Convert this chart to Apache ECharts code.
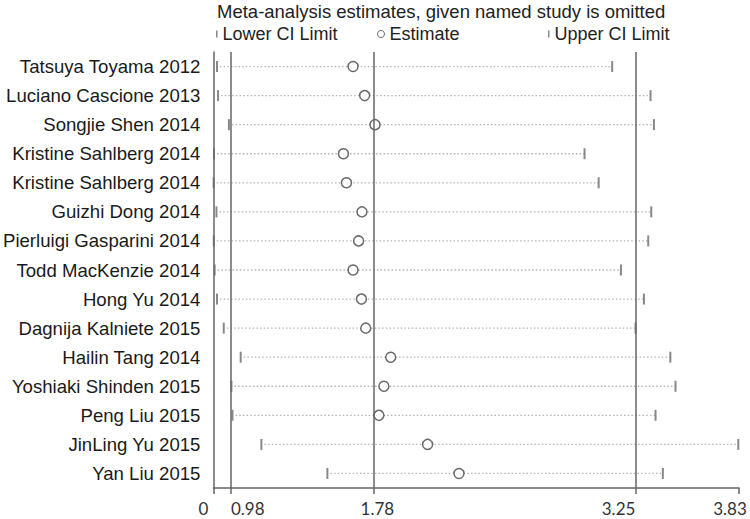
<!DOCTYPE html>
<html>
<head>
<meta charset="utf-8">
<script src="https://cdn.jsdelivr.net/npm/echarts@6/dist/echarts.min.js"></script>
<style>html,body{margin:0;padding:0;background:#fff;}#chart{width:750px;height:519px;}</style>
</head>
<body>
<div id="chart"></div>
<script>
const studies = [
  'Tatsuya Toyama 2012', 'Luciano Cascione 2013', 'Songjie Shen 2014',
  'Kristine Sahlberg 2014', 'Kristine Sahlberg 2014', 'Guizhi Dong 2014',
  'Pierluigi Gasparini 2014', 'Todd MacKenzie 2014', 'Hong Yu 2014',
  'Dagnija Kalniete 2015', 'Hailin Tang 2014', 'Yoshiaki Shinden 2015',
  'Peng Liu 2015', 'JinLing Yu 2015', 'Yan Liu 2015'
];
const lowerCI = [0.903, 0.909, 0.970, 0.886, 0.884, 0.900, 0.885, 0.890, 0.903, 0.941, 1.036, 0.984, 0.990, 1.152, 1.522];
const estimate = [1.666, 1.731, 1.789, 1.612, 1.629, 1.716, 1.697, 1.666, 1.713, 1.737, 1.877, 1.839, 1.811, 2.084, 2.260];
const upperCI = [3.119, 3.334, 3.353, 2.964, 3.043, 3.338, 3.321, 3.168, 3.297, 3.250, 3.445, 3.474, 3.362, 3.826, 3.403];
const refLines = [0.98, 1.78, 3.25];
const tickValues = [0.883, 0.98, 1.78, 3.25, 3.83];
const tickLabels = ['0', '0.98', '1.78', '3.25', '3.83'];
const tickStyleKeys = ['t0', 't1', 't2', 't3', 't4'];

const labelFont = 'Liberation Sans';
const tickFont = 'Lato';
function tickStyle(pad) {
  return { fontFamily: tickFont, fontSize: 17, color: '#333', padding: pad };
}
const tickRich = {
  t0: tickStyle([0, 20, 0, 0]),
  t1: tickStyle([0, 0, 0, 34]),
  t2: tickStyle([0, 0, 0, 8]),
  t3: tickStyle([0, 34, 0, 0]),
  t4: tickStyle([0, 18, 0, 0])
};

const chart = echarts.init(document.getElementById('chart'), null, { renderer: 'svg' });
const legendText = { fontFamily: labelFont, fontSize: 18, color: '#222' };
const rows = studies.map(function (s, i) { return i; });

chart.setOption({
  animation: false,
  backgroundColor: '#fff',
  title: {
    text: 'Meta-analysis estimates, given named study is omitted',
    left: 217, top: 2, padding: 0,
    textStyle: { fontFamily: labelFont, fontSize: 18.5, fontWeight: 'normal', color: '#222' }
  },
  legend: [
    { data: [{ name: 'Lower CI Limit', icon: 'rect' }], left: 216, top: 25, padding: 0,
      itemWidth: 1.5, itemHeight: 7, selectedMode: false, textStyle: legendText },
    { data: [{ name: 'Estimate', icon: 'circle' }], left: 377, top: 25, padding: 0,
      itemWidth: 7, itemHeight: 7, selectedMode: false, textStyle: legendText,
      itemStyle: { color: '#fff', borderColor: '#444', borderWidth: 1 } },
    { data: [{ name: 'Upper CI Limit', icon: 'rect' }], left: 548, top: 25, padding: 0,
      itemWidth: 1.5, itemHeight: 7, selectedMode: false, textStyle: legendText }
  ],
  grid: { left: 213, right: 11, top: 52, bottom: 31, containLabel: false },
  xAxis: {
    type: 'value',
    min: tickValues[0], max: tickValues[tickValues.length - 1],
    axisLine: { show: true, lineStyle: { color: '#666', width: 1.5 } },
    axisTick: { show: true, customValues: tickValues, length: 6, lineStyle: { color: '#666', width: 1.5 } },
    axisLabel: {
      customValues: tickValues, margin: 12, showMinLabel: true, showMaxLabel: true,
      fontFamily: tickFont, fontSize: 17, color: '#333',
      formatter: function (v) {
        let idx = 0, best = Infinity;
        tickValues.forEach(function (t, i) { const d = Math.abs(t - v); if (d < best) { best = d; idx = i; } });
        return '{' + tickStyleKeys[idx] + '|' + tickLabels[idx] + '}';
      },
      rich: tickRich
    },
    splitLine: { show: false }
  },
  yAxis: {
    type: 'category', data: studies, inverse: true,
    axisLine: { show: true, lineStyle: { color: '#666', width: 1.5 } },
    axisTick: { show: false },
    axisLabel: { fontFamily: labelFont, fontSize: 18.6, color: '#1a1a1a', margin: 13 },
    splitLine: { show: false }
  },
  series: [
    {
      type: 'custom', name: 'range', silent: true,
      encode: { x: 0, y: 1 },
      data: rows.map(function (i) { return [lowerCI[i], i, upperCI[i]]; }),
      renderItem: function (params, api) {
        const a = api.coord([api.value(0), api.value(1)]);
        const b = api.coord([api.value(2), api.value(1)]);
        return { type: 'line', shape: { x1: a[0] + 3, y1: a[1], x2: b[0], y2: b[1] },
          style: { stroke: '#b4b4b4', lineWidth: 1.3, lineDash: [1.5, 2.2] } };
      },
      z: 1
    },
    {
      type: 'scatter', name: 'Lower CI Limit', symbol: 'rect', symbolSize: [2, 11],
      itemStyle: { color: '#6a6a6a' },
      data: rows.map(function (i) { return [lowerCI[i], i]; }), z: 3,
      markLine: {
        silent: true, symbol: 'none', label: { show: false },
        lineStyle: { color: '#666', width: 1.5, type: 'solid' },
        data: refLines.map(function (v) { return { xAxis: v }; })
      }
    },
    {
      type: 'scatter', name: 'Upper CI Limit', symbol: 'rect', symbolSize: [2, 11],
      itemStyle: { color: '#6a6a6a' },
      data: rows.map(function (i) { return [upperCI[i], i]; }), z: 3
    },
    {
      type: 'scatter', name: 'Estimate', symbol: 'circle', symbolSize: 10,
      itemStyle: { color: '#fff', borderColor: '#444', borderWidth: 1.5 },
      data: rows.map(function (i) { return [estimate[i], i]; }), z: 4
    }
  ]
});
</script>
</body>
</html>
